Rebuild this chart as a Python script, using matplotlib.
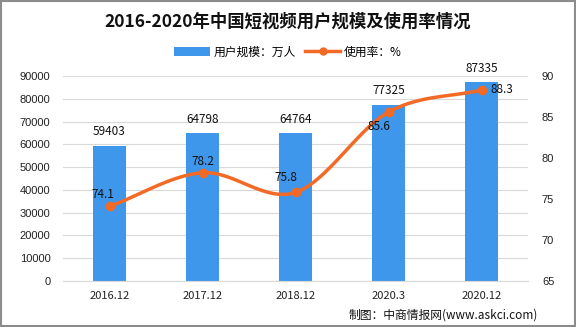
import numpy as np
import matplotlib
matplotlib.use("Agg")
import matplotlib.pyplot as plt
from matplotlib.lines import Line2D
from matplotlib.patches import Patch, Rectangle

plt.rcParams['font.family'] = ['Noto Sans CJK SC', 'DejaVu Sans']

categories = ["2016.12", "2017.12", "2018.12", "2020.3", "2020.12"]
users = [59403, 64798, 64764, 77325, 87335]
rate = [74.1, 78.2, 75.8, 85.6, 88.3]
left_ticks = list(range(0, 90001, 10000))
right_ticks = [65, 70, 75, 80, 85, 90]

bar_color = "#3F97EC"
line_color = "#F26A26"

fig = plt.figure(figsize=(5.76, 3.27), dpi=100)
ax = fig.add_axes([63/576, 1-281/327, 465/576, 205/327])
ax2 = ax.twinx()

x = np.arange(len(categories))
ax.bar(x, users, width=0.36, color=bar_color, zorder=2)
ax.set_xlim(-0.5, len(categories)-0.5)
ax.set_ylim(0, 90000)
ax.set_yticks(left_ticks)
ax.yaxis.grid(True, color="#D9D9D9", lw=0.8, zorder=0)
ax.set_axisbelow(True)
for s in ax.spines.values():
    s.set_visible(False)
for s in ax2.spines.values():
    s.set_visible(False)
ax.spines['bottom'].set_visible(True)
ax.spines['bottom'].set_color("#D9D9D9")
ax.tick_params(axis='both', length=0, labelsize=8, colors="#222222")
ax.tick_params(axis='y', pad=9)
ax.tick_params(axis='x', pad=7)
ax.set_xticks(x)
ax.set_xticklabels(categories, fontsize=8)
for lab in ax.get_yticklabels():
    lab.set_family(['Liberation Sans', 'DejaVu Sans'])

for xi, v in zip(x, users):
    ax.text(xi, v + 3300, str(v), ha='center', va='bottom', fontsize=8.5, color="#111111")

# smooth curve through data points (Catmull-Rom)
def catmull(xs, ys, n=30):
    xs = np.asarray(xs, float); ys = np.asarray(ys, float)
    px = np.concatenate([[2*xs[0]-xs[1]], xs, [2*xs[-1]-xs[-2]]])
    py = np.concatenate([[2*ys[0]-ys[1]], ys, [2*ys[-1]-ys[-2]]])
    ox, oy = [], []
    for i in range(1, len(px)-2):
        t = np.linspace(0, 1, n)
        for P, out in ((px, ox), (py, oy)):
            p0, p1, p2, p3 = P[i-1], P[i], P[i+1], P[i+2]
            out.extend(0.5*((2*p1) + (-p0+p2)*t + (2*p0-5*p1+4*p2-p3)*t**2 + (-p0+3*p1-3*p2+p3)*t**3))
    return np.array(ox), np.array(oy)

sx, sy = catmull(x, rate)
ax2.plot(sx, sy, color=line_color, lw=2.5, zorder=3)
ax2.plot(x, rate, 'o', color=line_color, ms=6, zorder=4)
ax2.set_ylim(65, 90)
ax2.set_yticks(right_ticks)
ax2.tick_params(axis='y', length=0, labelsize=8, colors="#222222", pad=10)
for lab in ax2.get_yticklabels():
    lab.set_family(['Liberation Sans', 'DejaVu Sans'])

# label placement: (dx, dy, ha, va)
offsets = [(-0.07, 0.6, 'center', 'bottom'),
           (0.0, 0.6, 'center', 'bottom'),
           (-0.1, 1.0, 'center', 'bottom'),
           (-0.1, -1.0, 'center', 'top'),
           (0.1, 0.0, 'left', 'center')]
for xi, v, (dx, dy, ha, va) in zip(x, rate, offsets):
    ax2.text(xi + dx, v + dy, f"{v}", ha=ha, va=va, fontsize=8.5, color="#111111")

fig.text(0.5, 1-22/327, "2016-2020年中国短视频用户规模及使用率情况", ha='center', va='center',
         fontsize=12.5, fontweight='bold', color="#111111")

handles = [Patch(facecolor=bar_color), Line2D([], [], color=line_color, lw=2.5, marker='o', ms=5)]
fig.legend(handles, ["用户规模：万人", "使用率：%"], loc='center', bbox_to_anchor=(0.5, 1-52/327),
           ncol=2, frameon=False, fontsize=8.5, handlelength=3.0, handleheight=0.7, columnspacing=0.8,
           handletextpad=0.3)

fig.text(538/576, 1-315/327, "制图：中商情报网(www.askci.com)", ha='right', va='center', fontsize=8.5, color="#111111")

fig.patches.append(Rectangle((0.002, 0.003), 0.996, 0.994, transform=fig.transFigure,
                             fill=False, edgecolor="#8C8C8C", lw=1.5))

fig.savefig("out.png", dpi=100)
